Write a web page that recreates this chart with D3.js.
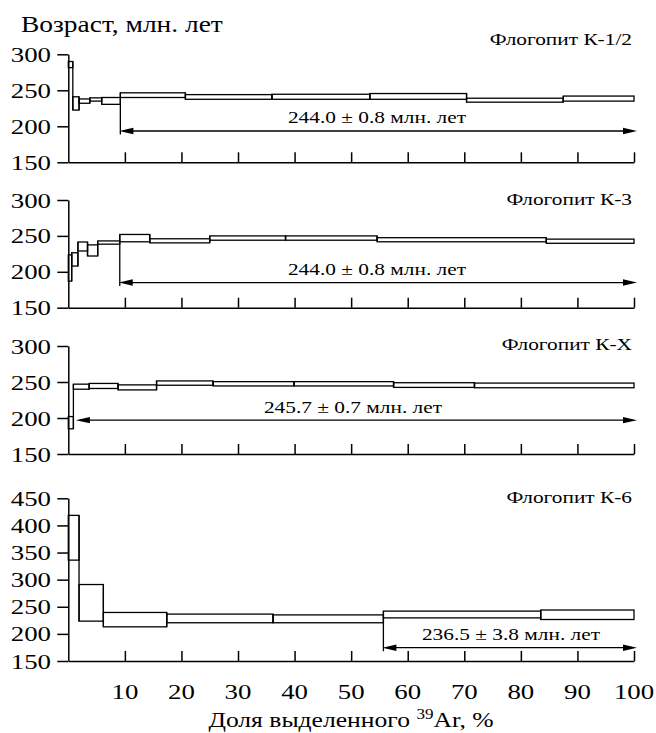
<!DOCTYPE html>
<html><head><meta charset="utf-8">
<script src="https://cdn.jsdelivr.net/npm/d3@7"></script>
<style>
html,body{margin:0;padding:0;background:#fff;}
</style></head>
<body><div id="chart"></div>
<script>
// ---------- DATA ----------
const yTitle = "Возраст, млн. лет";
const xTitleMain = "Доля выделенного ";
const xTitleSup = "39";
const xTitleEnd = "Ar, %";
const xTicks = [10,20,30,40,50,60,70,80,90,100];

const sampleNames = ["Флогопит К-1/2","Флогопит К-3","Флогопит К-X","Флогопит К-6"];

// cumulative % 39Ar step edges, and age box top/bottom (Ma)
const k12Edges = [0,0.8,1.9,3.8,5.9,9.2,20.7,36.0,53.3,70.4,87.5,100];
const k12Hi    = [290,241,238,239.5,240,246.5,244,244.5,245.5,239,242];
const k12Lo    = [281.5,222.5,232,235,230.5,240,237.5,237.5,237.5,233.5,235];

const k3Edges = [0,0.6,1.7,3.4,5.2,9.1,14.4,25.0,38.4,54.6,84.5,100];
const k3Hi    = [223.5,226.5,241.5,237.5,243,252,246,250,250,247.5,245.5];
const k3Lo    = [187,208,229,222,238.5,241.8,240.3,244,244,241.8,239.7];

const kxEdges = [0,0.9,3.7,8.8,15.6,25.6,39.9,57.5,71.8,100];
const kxHi    = [202,247,248,246,251.5,250.5,250.5,249,248.5];
const kxLo    = [185,240,241,239,245.5,244.5,244.5,242.5,242];

const k6Edges = [0,1.9,6.2,17.4,36.2,55.7,83.5,100];
const k6Hi    = [418.5,291,239.5,236.5,235,242,244];
const k6Lo    = [336,223.5,213,220.5,220.5,229.5,226.5];

// plateau: start %, arrow level (Ma), label
const plateauStart = [9.2, 9.1, 0.9, 55.7];
const plateauLevel = [193.5, 185, 197, 174.5];
const plateauText  = ["244.0 ± 0.8 млн. лет","244.0 ± 0.8 млн. лет","245.7 ± 0.7 млн. лет","236.5 ± 3.8 млн. лет"];

const yDomains = [[150,300],[150,300],[150,300],[150,450]];
const yTickVals = [[150,200,250,300],[150,200,250,300],[150,200,250,300],[150,200,250,300,350,400,450]];

// ---------- LAYOUT ----------
const W = 656, H = 733;
const FONT = "'Liberation Serif', 'Times New Roman', Times, serif";
const SX = 1.22; // horizontal stretch of lettering
const panelRanges = [[162.3,54.3],[307.7,200],[454,346],[661,498.3]];
const labelY = [45, 205, 350, 503];
const plateauTextY = [123, 275, 413, 640];
const plateauTextX = [377, 377, 353, 511];
const arrowTipOffset = [-1, -1, 2.5, -1];

const svg = d3.select("#chart").append("svg").attr("width",W).attr("height",H);
const x = d3.scaleLinear().domain([0,100]).range([68.3,634]);

function txt(g, s, px, py, size, anchor){
  return g.append("g").attr("transform",`translate(${px},${py}) scale(${SX},1)`)
    .append("text").attr("text-anchor",anchor||"start")
    .attr("font-family",FONT).attr("font-size",size).attr("fill","#000").text(s);
}
function arrowHead(g, tipX, y, dir){
  const L=14, hw=3.2;
  g.append("path").attr("d",`M${tipX},${y}L${tipX-dir*L},${y-hw}L${tipX-dir*L},${y+hw}Z`).attr("fill","#000");
}

const series = [
  {edges:k12Edges, hi:k12Hi, lo:k12Lo},
  {edges:k3Edges, hi:k3Hi, lo:k3Lo},
  {edges:kxEdges, hi:kxHi, lo:kxLo},
  {edges:k6Edges, hi:k6Hi, lo:k6Lo}
];

series.forEach((s,i)=>{
  const y = d3.scaleLinear().domain(yDomains[i]).range(panelRanges[i]);
  const g = svg.append("g");
  // y axis
  const yAx = g.append("g").attr("transform",`translate(${x(0)},0)`)
    .call(d3.axisLeft(y).tickValues(yTickVals[i]).tickSize(11).tickSizeOuter(0).tickFormat(""));
  yAx.select(".domain").attr("stroke","#000").attr("stroke-width",1.5);
  yAx.selectAll(".tick line").attr("stroke","#000").attr("stroke-width",1.5);
  yTickVals[i].forEach(v=>{ txt(g, String(v), 51, y(v)+7.5, 22, "end"); });
  // x axis (ticks inward)
  const xAx = g.append("g").attr("transform",`translate(0,${y(yDomains[i][0])})`)
    .call(d3.axisTop(x).tickValues(xTicks).tickSize(10).tickSizeOuter(0).tickFormat(""));
  xAx.select(".domain").attr("stroke","#000").attr("stroke-width",1.5);
  xAx.selectAll(".tick line").attr("stroke","#000").attr("stroke-width",1.5);

  // boxes
  const steps = s.hi.map((h,k)=>({x0:s.edges[k], x1:s.edges[k+1], hi:h, lo:s.lo[k]}));
  g.selectAll("rect.step").data(steps).enter().append("rect").attr("class","step")
    .attr("x",d=>x(d.x0)).attr("width",d=>x(d.x1)-x(d.x0))
    .attr("y",d=>y(d.hi)).attr("height",d=>y(d.lo)-y(d.hi))
    .attr("fill","none").attr("stroke","#000").attr("stroke-width",1.3);
  // connectors between adjacent steps
  const conn = steps.slice(1).map((d,k)=>({xe:d.x0,
    top:Math.max(d.hi, steps[k].hi), bot:Math.min(d.lo, steps[k].lo)}));
  g.selectAll("line.conn").data(conn).enter().append("line").attr("class","conn")
    .attr("x1",d=>x(d.xe)).attr("x2",d=>x(d.xe)).attr("y1",d=>y(d.top)).attr("y2",d=>y(d.bot))
    .attr("stroke","#000").attr("stroke-width",1.3);

  // plateau arrow
  const ps = plateauStart[i], ay = y(plateauLevel[i]);
  const xs = x(ps), xe = x(100)+3;
  const k = s.edges.indexOf(ps);
  const botAge = Math.min(s.lo[k-1], s.lo[k]);
  if(i!==2){
    g.append("line").attr("x1",xs).attr("x2",xs).attr("y1",y(botAge)).attr("y2",ay+3.5)
      .attr("stroke","#000").attr("stroke-width",1.3);
  }
  g.append("line").attr("x1",xs+6).attr("x2",xe-6).attr("y1",ay).attr("y2",ay)
    .attr("stroke","#000").attr("stroke-width",1.3);
  arrowHead(g, xs+arrowTipOffset[i], ay, -1);
  arrowHead(g, xe, ay, 1);
  txt(g, plateauText[i], plateauTextX[i], plateauTextY[i], 17.5, "middle");
  // sample label
  txt(g, sampleNames[i], 632, labelY[i], 17.5, "end");
});

// axis labels on bottom panel
xTicks.forEach(v=>{ txt(svg, String(v), x(v), 699, 22, "middle"); });
txt(svg, yTitle, 21, 32, 22.5, "start");
const xt = svg.append("g").attr("transform",`translate(351,727) scale(${SX},1)`)
  .append("text").attr("text-anchor","middle").attr("font-family",FONT).attr("font-size",21);
xt.append("tspan").text(xTitleMain);
xt.append("tspan").attr("dy",-8).attr("font-size",14).text(xTitleSup);
xt.append("tspan").attr("dy",8).text(xTitleEnd);
</script></body></html>
